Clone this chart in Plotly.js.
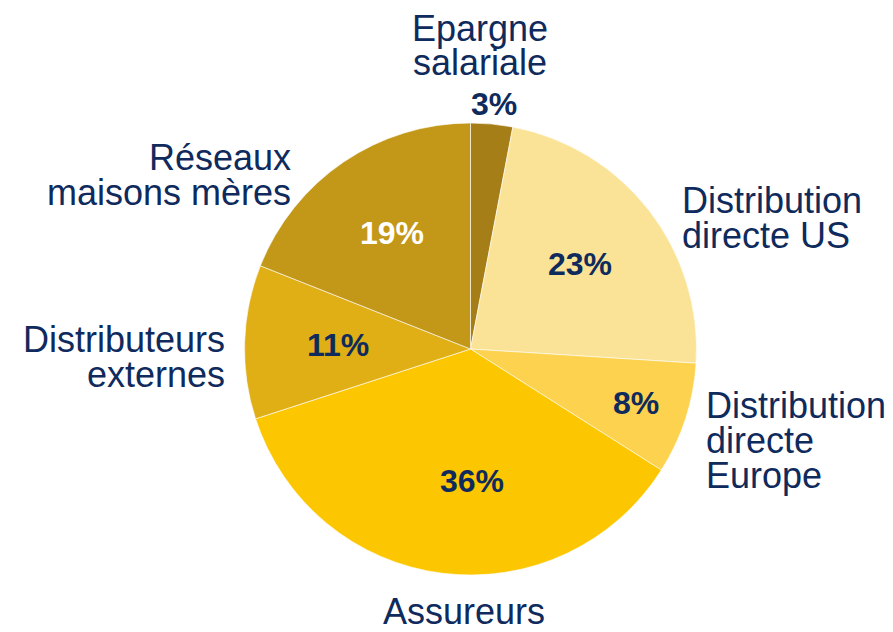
<!DOCTYPE html>
<html>
<head>
<meta charset="utf-8">
<script src="https://cdn.plot.ly/plotly-3.0.1.min.js"></script>
<style>html,body{margin:0;padding:0;background:#fff;}#chart{width:893px;height:632px;}</style>
</head>
<body>
<div id="chart"></div>
<script>
// ---- data ----
const categories = ["Epargne<br>salariale", "Distribution<br>directe US", "Distribution<br>directe<br>Europe", "Assureurs", "Distributeurs<br>externes", "Réseaux<br>maisons mères"];
const shares = [3, 23, 8, 36, 11, 19];

// ---- style ----
const sliceColors = ["#A67E18", "#FAE396", "#FCD24E", "#FCC600", "#E0AE15", "#C39718"];
const navy = "#0F2A5C";
const pctColors = [navy, navy, navy, navy, navy, "#FFFFFF"];
const fontFam = "Arial, 'Liberation Sans', sans-serif";
const W = 893, H = 632;
const labelSize = 36, lineGap = 35, pctSize = 32;
// category label placement in pixels: x, y of first line's centre, horizontal anchor
const labelPlace = [
  {x: 480, y: 28, a: "center"},
  {x: 681, y: 200, a: "left"},
  {x: 705, y: 405, a: "left"},
  {x: 464, y: 611, a: "center"},
  {x: 226, y: 339, a: "right"},
  {x: 292, y: 157, a: "right"}
];
// percent label placement: radius as a fraction of the pie radius along the slice's mid-angle, plus pixel nudge
const pctRadius = [1.09, 0.615, 0.77, 0.59, 0.585, 0.62];
const pctNudgeX = [0, 0, 0, 18, 0, 0];

const cx = 470.5, cy = 349, R = 226;

const annotations = [];
categories.forEach((c, i) => {
  const lines = c.split("<br>");
  const p = labelPlace[i];
  lines.forEach((ln, j) => {
    annotations.push({
      text: ln, xref: "paper", yref: "paper",
      x: p.x / W, y: 1 - (p.y + j * lineGap) / H,
      xanchor: p.a, yanchor: "middle", showarrow: false, borderpad: 0,
      font: {family: fontFam, size: labelSize, color: navy}
    });
  });
});

// percent labels from the data: mid-angle of each slice (clockwise from 12 o'clock)
const total = shares.reduce((a, b) => a + b, 0);
let cum = 0;
shares.forEach((v, i) => {
  const mid = (cum + v / 2) / total * 2 * Math.PI;
  cum += v;
  const r = pctRadius[i] * R;
  const px = cx + r * Math.sin(mid) + pctNudgeX[i];
  const py = cy - r * Math.cos(mid);
  annotations.push({
    text: "<b>" + Math.round(v / total * 100) + "%</b>",
    xref: "paper", yref: "paper", x: px / W, y: 1 - py / H,
    xanchor: "center", yanchor: "middle", showarrow: false, borderpad: 0,
    font: {family: fontFam, size: pctSize, color: pctColors[i]}
  });
});

const trace = {
  type: "pie",
  labels: categories,
  values: shares,
  sort: false,
  direction: "clockwise",
  rotation: 0,
  marker: {colors: sliceColors, line: {color: "rgba(255,255,255,0.6)", width: 1}},
  textinfo: "none",
  hoverinfo: "label+percent",
  domain: {x: [(cx - R) / W, (cx + R) / W], y: [1 - (cy + R) / H, 1 - (cy - R) / H]}
};

Plotly.newPlot("chart", [trace], {
  width: W, height: H,
  margin: {l: 0, r: 0, t: 0, b: 0},
  paper_bgcolor: "#fff",
  showlegend: false,
  annotations: annotations
}, {displayModeBar: false});
</script>
</body>
</html>
